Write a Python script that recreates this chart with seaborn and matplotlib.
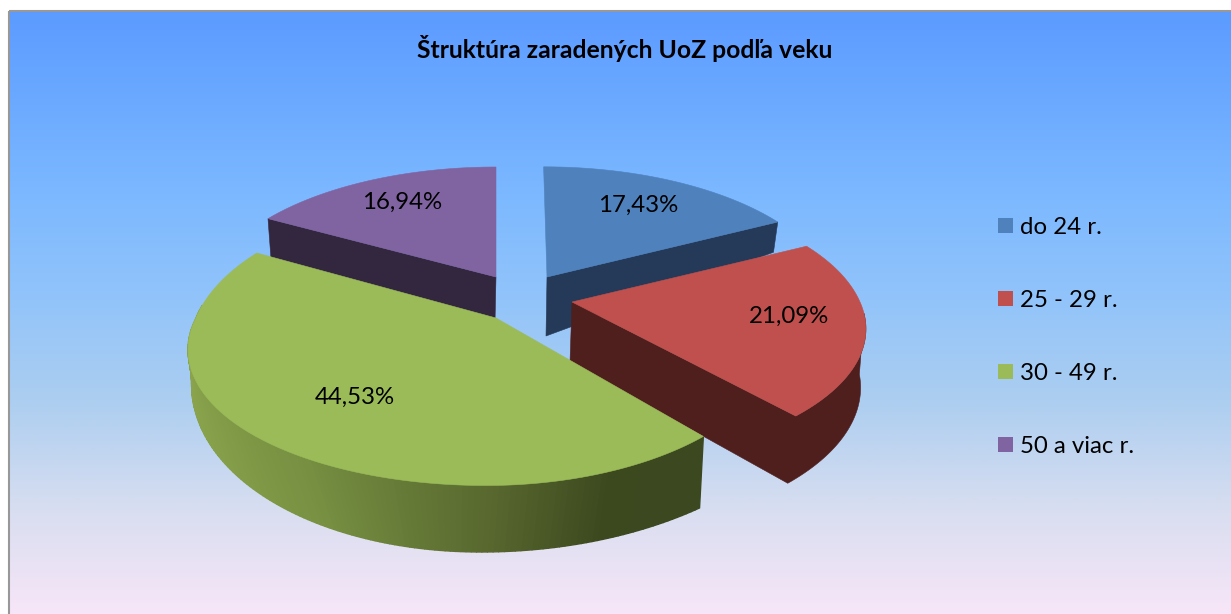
import numpy as np
import matplotlib
matplotlib.use("Agg")
import matplotlib.pyplot as plt
from matplotlib.patches import Patch, Polygon, Rectangle
import seaborn as sns

# ---------- data ----------
categories = ["do 24 r.", "25 - 29 r.", "30 - 49 r.", "50 a viac r."]
shares = [17.43, 21.09, 44.53, 16.94]
title = "Štruktúra zaradených UoZ podľa veku"

# ---------- style ----------
sns.set_theme(style="white")
plt.rcParams["font.family"] = ["Lato", "DejaVu Sans"]
top_colors = sns.color_palette(["#4F81BD", "#C0504D", "#9BBB59", "#8064A2"])
wall_colors = sns.color_palette(["#243A58", "#4F1F1E", "#3E4A20", "#33273F"])

W, H = 1231, 614
fig = plt.figure(figsize=(W / 100, H / 100), dpi=100)
ax = fig.add_axes([0, 0, 1, 1])
ax.set_xlim(0, W)
ax.set_ylim(H, 0)
ax.axis("off")

# ---------- background ----------
ys = np.arange(12, H + 1)
stop_y = [12, 60, 200, 300, 400, 510, 614]
stop_c = np.array([(92, 155, 255), (100, 163, 255), (125, 185, 255), (146, 196, 250),
                   (172, 206, 240), (216, 222, 240), (247, 230, 248)]) / 255
grad = np.stack([np.interp(ys, stop_y, stop_c[:, i]) for i in range(3)], axis=1)[:, None, :]
ax.imshow(grad, extent=(10, W, H, 12), aspect="auto", zorder=0, interpolation="bilinear")
ax.set_xlim(0, W)
ax.set_ylim(H, 0)
ax.add_patch(Rectangle((9.2, 11), W + 50, H + 50, fc="none", ec="#989898", lw=1.5, zorder=1))

# ---------- geometry of the perspective slices (pixel model) ----------
# tx, ty: apex; sr, sl: half-widths right/left; t, tb: depth scale front/back;
# k: perspective; q, qf: skew back/front
top_geo = [
    dict(tx=547, ty=277, sr=283, sl=283, t=130, tb=130, k=0.18, q=-4, qf=0),
    dict(tx=572, ty=302, sr=288, sl=288, t=129, tb=133, k=0.20, q=0, qf=0),
    dict(tx=496, ty=318, sr=276, sl=300, t=134, tb=147, k=0.20, q=0, qf=8),
    dict(tx=496, ty=277, sr=286, sl=286, t=132, tb=132, k=0.20, q=0, qf=0),
]
bot_geo = [
    dict(tx=546, ty=336, sr=280, sl=280, t=205, tb=205, k=0.206, q=0, qf=0),
    dict(tx=570, ty=362, sr=286, sl=286, t=140, tb=140, k=0.177, q=0, qf=0),
    dict(tx=497, ty=375, sr=325, sl=305, t=177, tb=177, k=0.0, q=0, qf=16),
    dict(tx=495, ty=322, sr=281, sl=281, t=148, tb=148, k=0.20, q=0, qf=0),
]


def rim(theta, g):
    theta = np.asarray(theta, dtype=float)
    c, s = np.cos(theta), np.sin(theta)
    w = 1 + g["k"] * c
    sx = np.where(s >= 0, g["sr"], g["sl"])
    skew = g["q"] * np.maximum(c, 0) + g["qf"] * np.minimum(c, 0)
    depth = np.where(c >= 0, g["tb"], g["t"])
    return g["tx"] + (sx * s + skew) / w, g["ty"] - depth * c / w


def poly(xs, ys, color, z, lw=0.4):
    ax.add_patch(Polygon(np.column_stack([xs, ys]), closed=True, fc=color, ec=color,
                         lw=lw, zorder=z))


edges = np.deg2rad(np.concatenate([[0], np.cumsum(shares) / np.sum(shares) * 360]))


def draw_top(i, z):
    th = np.linspace(edges[i], edges[i + 1], 160)
    x, y = rim(th, top_geo[i])
    poly(np.r_[top_geo[i]["tx"], x], np.r_[top_geo[i]["ty"], y], top_colors[i], z)


def cut_wall(i, theta, color, z):
    gt, gb = top_geo[i], bot_geo[i]
    xt, yt = rim(theta, gt)
    xb, yb = rim(theta, gb)
    poly([gt["tx"], xt, xb, gb["tx"]], [gt["ty"], yt, yb + 2, gb["ty"]], color, z)


# blue: wall along its clockwise cut
cut_wall(0, edges[1], wall_colors[0], 2)
draw_top(0, 3)
# purple: wall along its first cut
cut_wall(3, edges[3], wall_colors[3], 2)
draw_top(3, 3)
# red: cut wall and outer rim as one outline
th_r = np.linspace(np.deg2rad(95), edges[2], 60)
xt, yt = rim(th_r, top_geo[1])
xb, yb = rim(th_r, bot_geo[1])
poly(np.r_[xt, top_geo[1]["tx"], bot_geo[1]["tx"], xb[::-1]],
     np.r_[yt, top_geo[1]["ty"], bot_geo[1]["ty"], yb[::-1]], wall_colors[1], 4)
draw_top(1, 5)
# green: shaded outer rim
th_g = np.linspace(edges[2], np.deg2rad(275), 140)
xt, yt = rim(th_g, top_geo[2])
xb, yb = rim(th_g, bot_geo[2])
shade_x = [190, 330, 500, 600, 705]
shade_c = np.array([(138, 163, 76), (118, 143, 65), (85, 100, 45), (60, 72, 30), (60, 72, 32)]) / 255
for j in range(len(th_g) - 1):
    mid = (xb[j] + xb[j + 1]) / 2
    col = [np.interp(mid, shade_x, shade_c[:, n]) for n in range(3)]
    poly([xt[j], xt[j + 1], xb[j + 1], xb[j]], [yt[j], yt[j + 1], yb[j + 1], yb[j]], col, 6, lw=1.0)
draw_top(2, 7)

# ---------- texts ----------
label_xy = [(638, 205), (789, 316), (355, 397), (402, 202)]
for v, (lx, ly) in zip(shares, label_xy):
    ax.text(lx, ly, f"{v:.2f}".replace(".", ",") + "%", ha="center", va="center",
            fontsize=17.3, color="black", zorder=10)

ax.text(625, 48.5, title, ha="center", va="center", fontsize=17.85, fontweight="bold",
        color="black", zorder=10)

handles = [Patch(fc=c, ec="none", label=n) for c, n in zip(top_colors, categories)]
ax.legend(handles=handles, loc="center left", bbox_to_anchor=(1002 / W - 0.0035, 1 - 337 / H),
          frameon=False, fontsize=17.3, handlelength=0.63, handleheight=0.63,
          handletextpad=0.3, labelspacing=2.165, borderpad=0, borderaxespad=0,
          labelcolor="black")

fig.savefig("out.png", dpi=100)
